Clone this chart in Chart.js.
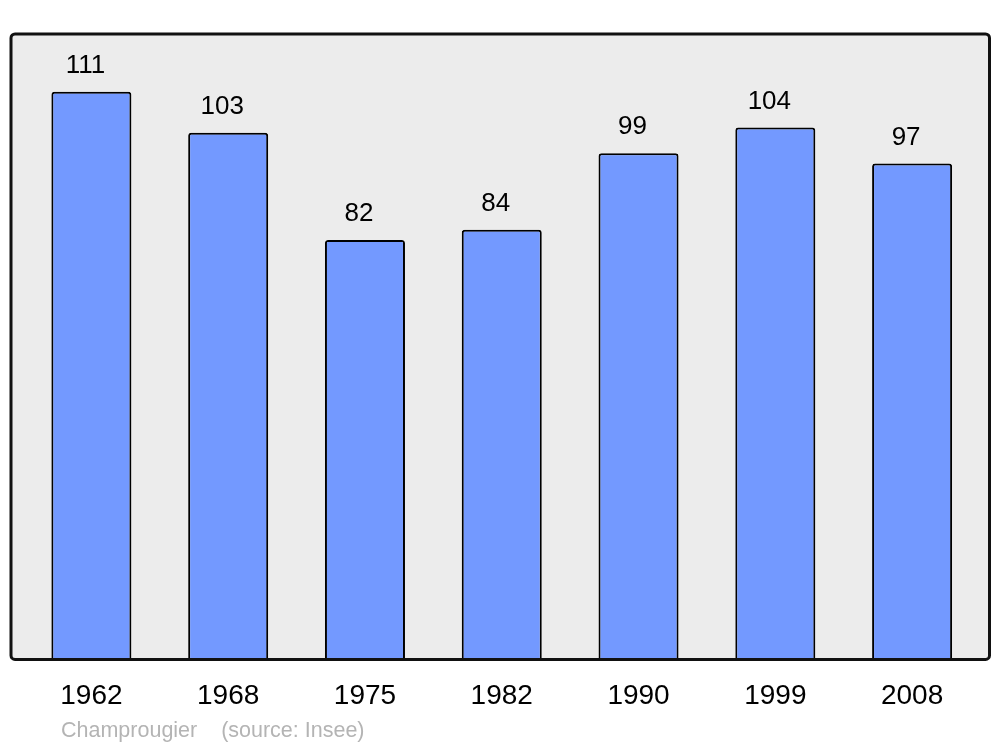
<!DOCTYPE html>
<html>
<head>
<meta charset="utf-8">
<script src="https://cdn.jsdelivr.net/npm/chart.js@4/dist/chart.umd.min.js"></script>
<style>
  html, body { margin: 0; padding: 0; background: #fff; }
  #wrap { width: 1000px; height: 747px; }
</style>
</head>
<body>
<div id="wrap"><canvas id="pop"></canvas></div>
<script>
// population per census year
const years = ["1962", "1968", "1975", "1982", "1990", "1999", "2008"];
const population = [111, 103, 82, 84, 99, 104, 97];
const townName = "Champrougier";
const sourceNote = "(source: Insee)";

// grey panel behind the bars, outline drawn over them
const panel = {
  id: "panel",
  box(chart) {
    const a = chart.chartArea;
    return { x: a.left - 12, y: a.top, w: a.right - a.left + 21, h: a.bottom - a.top };
  },
  beforeDatasetsDraw(chart) {
    const c = chart.ctx, b = this.box(chart);
    c.save();
    c.fillStyle = "#ececec";
    c.beginPath();
    c.roundRect(b.x, b.y, b.w, b.h, 4);
    c.fill();
    c.restore();
  },
  afterDatasetsDraw(chart) {
    const c = chart.ctx, b = this.box(chart);
    c.save();
    c.strokeStyle = "#111";
    c.lineWidth = 3;
    c.beginPath();
    c.roundRect(b.x, b.y, b.w, b.h, 4);
    c.stroke();

    // value above each bar
    const meta = chart.getDatasetMeta(0);
    c.fillStyle = "#000";
    c.font = "26px 'Liberation Sans', Arial, sans-serif";
    c.textAlign = "center";
    c.textBaseline = "middle";
    meta.data.forEach((bar, i) => {
      c.fillText(String(population[i]), bar.x - 6, bar.y - 26);
    });

    // town / source line
    c.fillStyle = "#b4b4b4";
    c.font = "21.5px 'Liberation Sans', Arial, sans-serif";
    c.textAlign = "left";
    c.fillText(townName + "    " + sourceNote, b.x + 50, b.y + b.h + 72);
    c.restore();
  }
};

new Chart(document.getElementById("pop"), {
  type: "bar",
  data: {
    labels: years,
    datasets: [{
      data: population,
      backgroundColor: "#7399ff",
      borderColor: "#000",
      borderWidth: 2,
      borderRadius: { topLeft: 3, topRight: 3 },
      borderSkipped: "bottom",
      barPercentage: 0.585,
      categoryPercentage: 1
    }]
  },
  options: {
    responsive: true,
    maintainAspectRatio: false,
    animation: false,
    layout: { padding: { top: 34, left: 23, right: 19.5, bottom: 14 } },
    plugins: {
      legend: { display: false },
      tooltip: { enabled: false }
    },
    scales: {
      x: {
        grid: { display: false, drawTicks: false },
        border: { display: false },
        ticks: {
          color: "#000",
          padding: 20,
          font: { family: "'Liberation Sans', Arial, sans-serif", size: 28 }
        }
      },
      y: {
        display: false,
        min: 0,
        max: 122.3
      }
    }
  },
  plugins: [panel]
});
</script>
</body>
</html>
